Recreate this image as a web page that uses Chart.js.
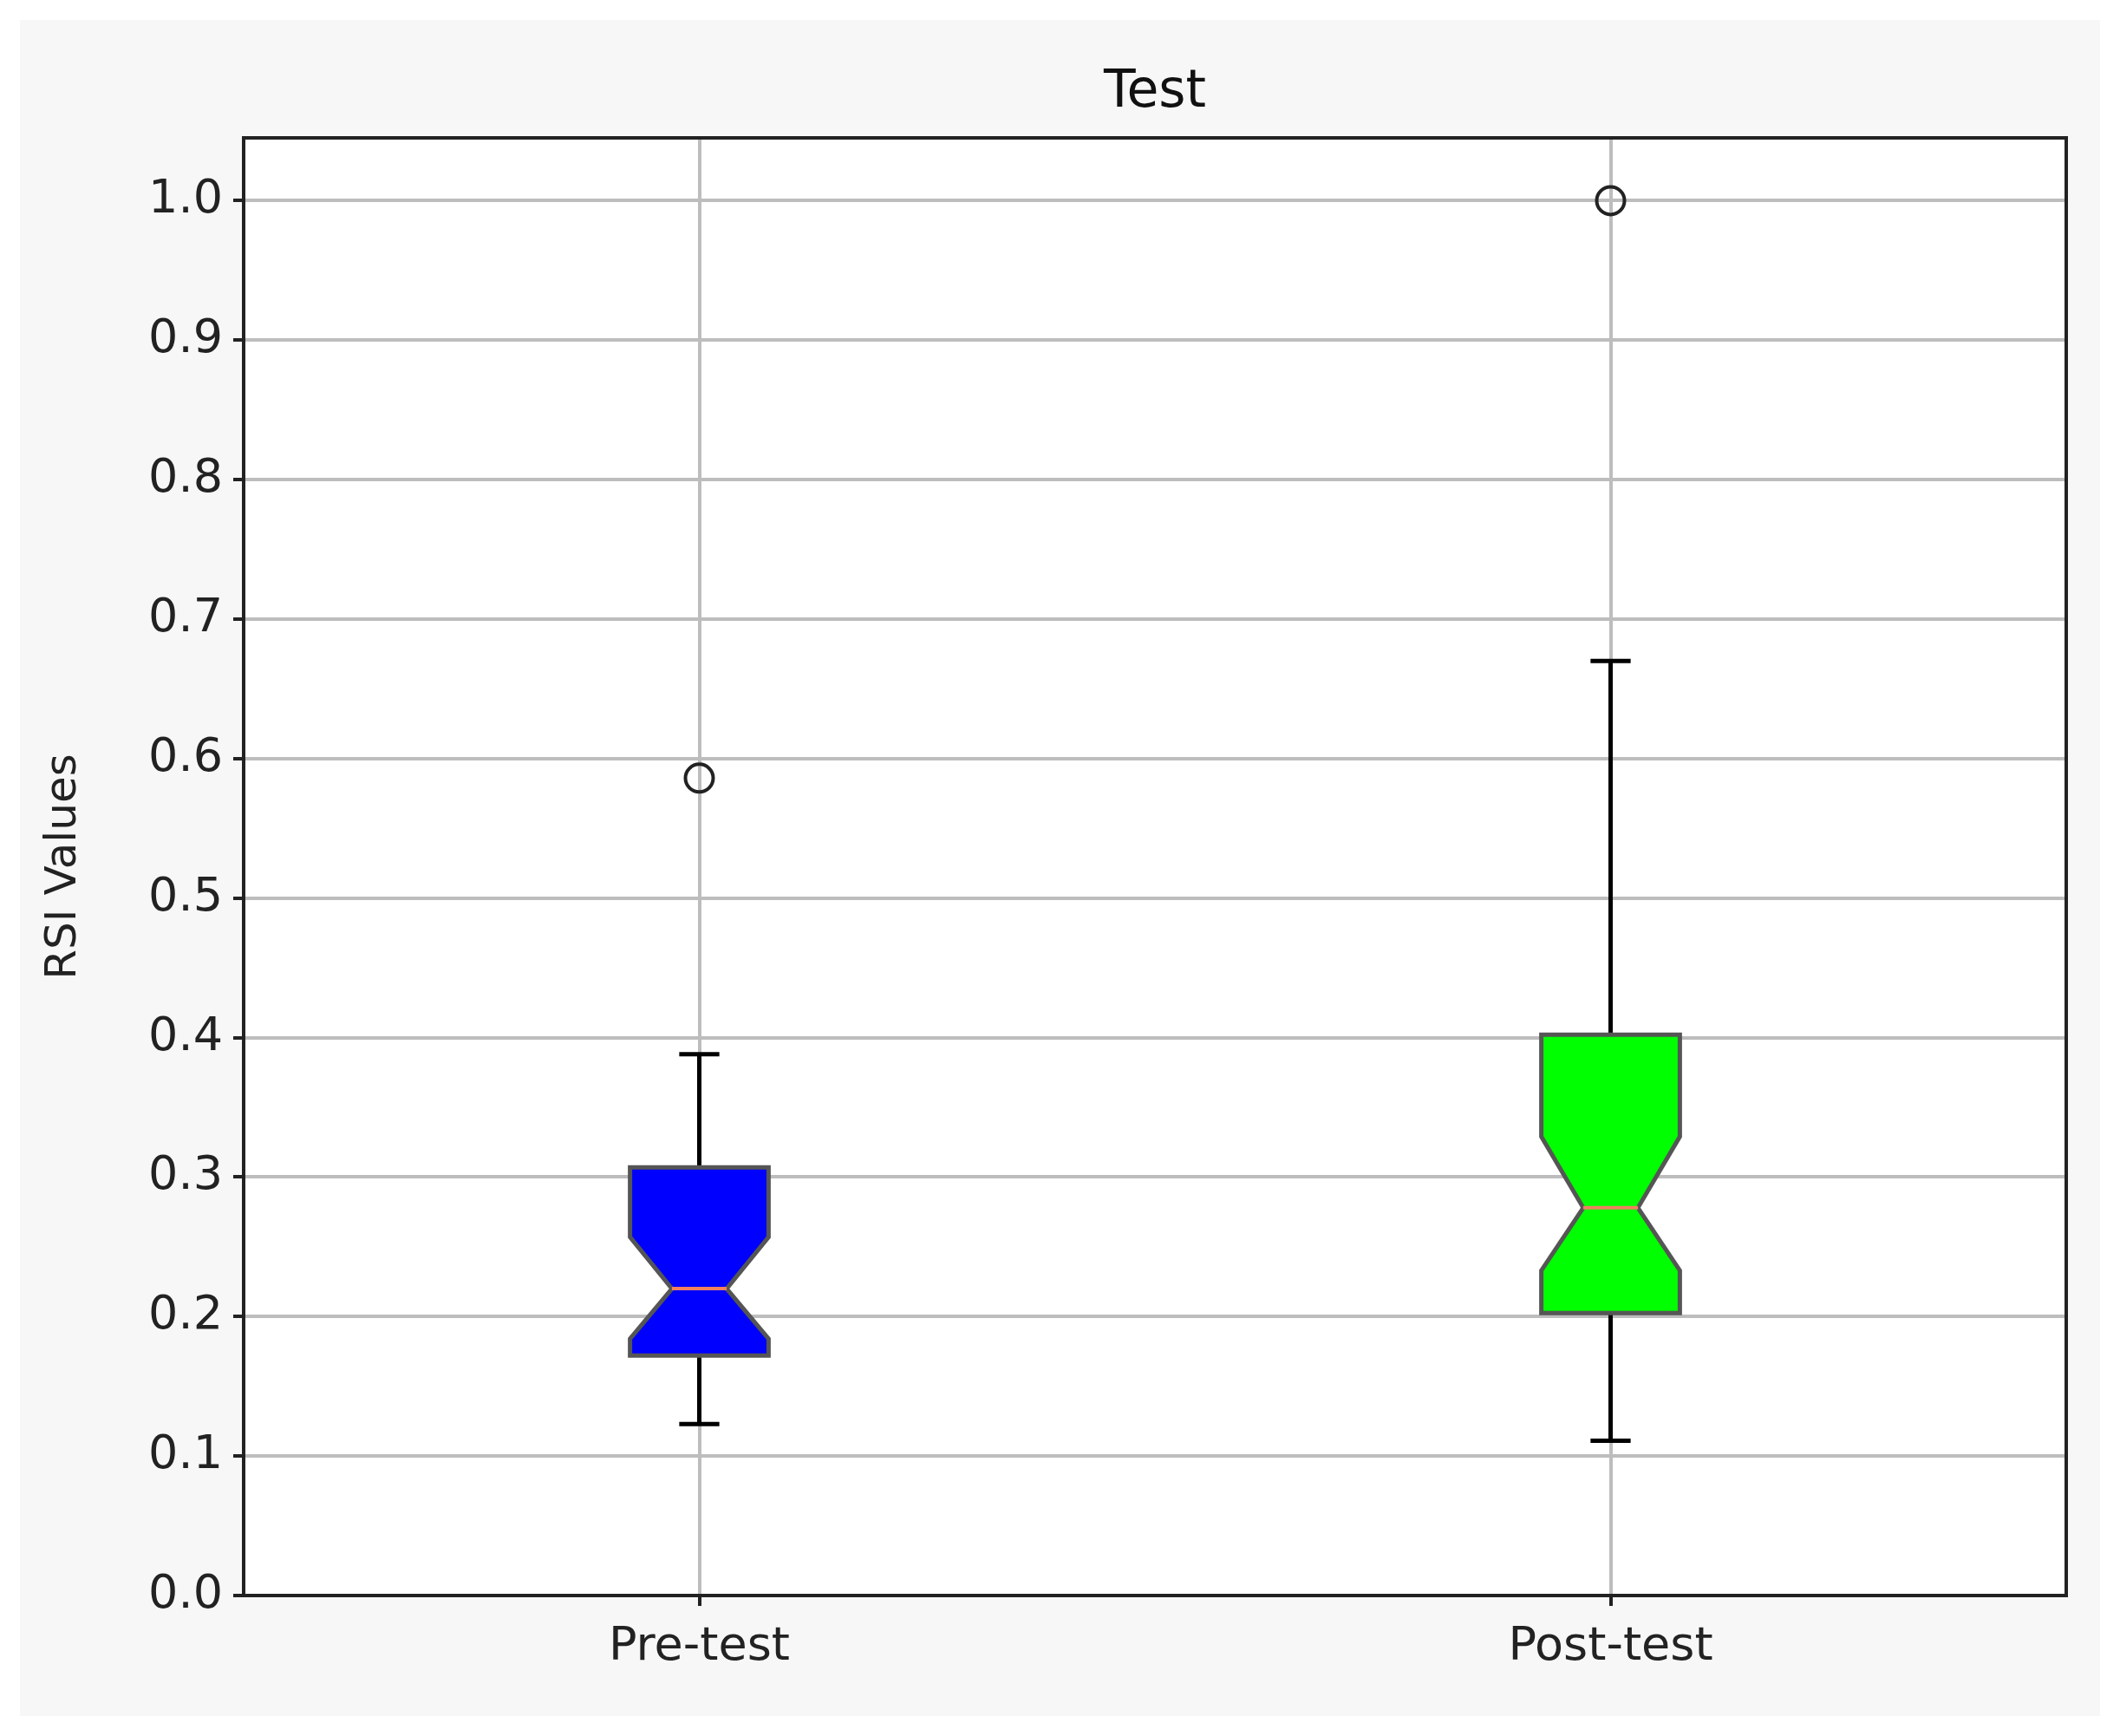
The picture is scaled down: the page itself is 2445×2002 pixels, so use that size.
<!DOCTYPE html>
<html>
<head>
<meta charset="utf-8">
<script src="https://cdn.jsdelivr.net/npm/chart.js@4"></script>
<style>
  html, body { margin: 0; padding: 0; background: #ffffff; }
  #wrap { width: 2445px; height: 2002px; }
</style>
</head>
<body>
<div id="wrap"><canvas id="box" width="2445" height="2002"></canvas></div>
<script>
// Box plot values
const chartTitle = 'Test';
const categories = ['Pre-test', 'Post-test'];
const whiskerLow = [0.123, 0.111];
const q1 = [0.172, 0.2025];
const notchLow = [0.184, 0.233];
const median = [0.220, 0.278];
const notchHigh = [0.257, 0.329];
const q3 = [0.307, 0.402];
const whiskerHigh = [0.388, 0.670];
const outliers = [[0.586], [1.0]];
const boxColors = ['#0000ff', '#00ff00'];

const yTicks = [0, 0.1, 0.2, 0.3, 0.4, 0.5, 0.6, 0.7, 0.8, 0.9, 1.0];

const outlierPoints = [];
outliers.forEach((vals, i) => vals.forEach(v => outlierPoints.push({ x: i + 1, y: v })));

// Draw notched boxes and whiskers through the chart scales
const boxPlugin = {
    id: 'boxPlugin',
    beforeDraw(chart) {
        const ctx = chart.ctx;
        const a = chart.chartArea;
        ctx.save();
        ctx.fillStyle = '#ffffff';
        ctx.fillRect(0, 0, chart.width, chart.height);
        ctx.fillStyle = '#f7f7f7';
        ctx.fillRect(23, 23, chart.width - 46, chart.height - 46);
        ctx.fillStyle = '#ffffff';
        ctx.fillRect(a.left, a.top, a.right - a.left, a.bottom - a.top);
        // title centred over the plot area
        ctx.fillStyle = '#111';
        ctx.font = '60px "DejaVu Sans"';
        ctx.textAlign = 'center';
        ctx.textBaseline = 'alphabetic';
        ctx.fillText(chartTitle, (a.left + a.right) / 2, a.top - 36);
        ctx.restore();
    },
    afterDatasetsDraw(chart) {
        const ctx = chart.ctx;
        const xs = chart.scales.x, ys = chart.scales.y;
        const w = 0.076, n = 0.046, cap = 0.022;
        ctx.save();
        categories.forEach((c, i) => {
            const x = i + 1;
            const X = v => xs.getPixelForValue(v);
            const Y = v => ys.getPixelForValue(v);
            ctx.strokeStyle = '#000';
            ctx.lineWidth = 5;
            ctx.beginPath();
            ctx.moveTo(X(x), Y(q1[i])); ctx.lineTo(X(x), Y(whiskerLow[i]));
            ctx.moveTo(X(x), Y(q3[i])); ctx.lineTo(X(x), Y(whiskerHigh[i]));
            ctx.moveTo(X(x - cap), Y(whiskerLow[i])); ctx.lineTo(X(x + cap), Y(whiskerLow[i]));
            ctx.moveTo(X(x - cap), Y(whiskerHigh[i])); ctx.lineTo(X(x + cap), Y(whiskerHigh[i]));
            ctx.stroke();
            const pts = [
                [x - w, q1[i]], [x + w, q1[i]], [x + w, notchLow[i]], [x + w - n, median[i]],
                [x + w, notchHigh[i]], [x + w, q3[i]], [x - w, q3[i]], [x - w, notchHigh[i]],
                [x - w + n, median[i]], [x - w, notchLow[i]]
            ];
            ctx.beginPath();
            pts.forEach((p, k) => k ? ctx.lineTo(X(p[0]), Y(p[1])) : ctx.moveTo(X(p[0]), Y(p[1])));
            ctx.closePath();
            ctx.fillStyle = boxColors[i];
            ctx.fill();
            ctx.strokeStyle = '#555';
            ctx.lineWidth = 5;
            ctx.stroke();
            ctx.strokeStyle = '#f08060';
            ctx.lineWidth = 4;
            ctx.beginPath();
            ctx.moveTo(X(x - w + n), Y(median[i]));
            ctx.lineTo(X(x + w - n), Y(median[i]));
            ctx.stroke();
        });
        const a = chart.chartArea;
        ctx.strokeStyle = '#222';
        ctx.lineWidth = 4;
        ctx.strokeRect(a.left, a.top, a.right - a.left, a.bottom - a.top);
        ctx.restore();
    }
};

new Chart(document.getElementById('box'), {
    type: 'scatter',
    data: {
        datasets: [{
            label: 'Outliers',
            data: outlierPoints,
            pointStyle: 'circle',
            pointRadius: 16,
            pointBorderWidth: 4,
            pointBorderColor: '#222',
            pointBackgroundColor: 'rgba(255,255,255,0)'
        }]
    },
    options: {
        responsive: false,
        devicePixelRatio: 1,
        animation: false,
        layout: { padding: { left: 40, right: 62, top: 159, bottom: 40 } },
        plugins: {
            legend: { display: false },
            tooltip: { enabled: false },
            title: { display: false }
        },
        scales: {
            x: {
                type: 'linear',
                min: 0.5,
                max: 2.5,
                afterBuildTicks: s => { s.ticks = categories.map((c, i) => ({ value: i + 1 })); },
                afterFit: s => { s.height = 122; },
                ticks: {
                    callback: v => categories[v - 1],
                    color: '#222',
                    font: { family: 'DejaVu Sans', size: 54 },
                    padding: 16
                },
                grid: { color: '#bdbdbd', lineWidth: 4, tickLength: 12, tickColor: '#222' },
                border: { display: false }
            },
            y: {
                min: 0,
                max: 1.045,
                afterBuildTicks: s => { s.ticks = yTicks.map(v => ({ value: v })); },
                afterFit: s => { s.width = 241; },
                ticks: {
                    callback: v => v.toFixed(1),
                    color: '#222',
                    font: { family: 'DejaVu Sans', size: 54 },
                    padding: 12
                },
                grid: { color: '#bdbdbd', lineWidth: 4, tickLength: 12, tickColor: '#222' },
                border: { display: false },
                title: {
                    display: true,
                    text: 'RSI Values',
                    color: '#222',
                    font: { family: 'DejaVu Sans', size: 50 },
                    padding: { bottom: 0 }
                }
            }
        }
    },
    plugins: [boxPlugin]
});
</script>
</body>
</html>
